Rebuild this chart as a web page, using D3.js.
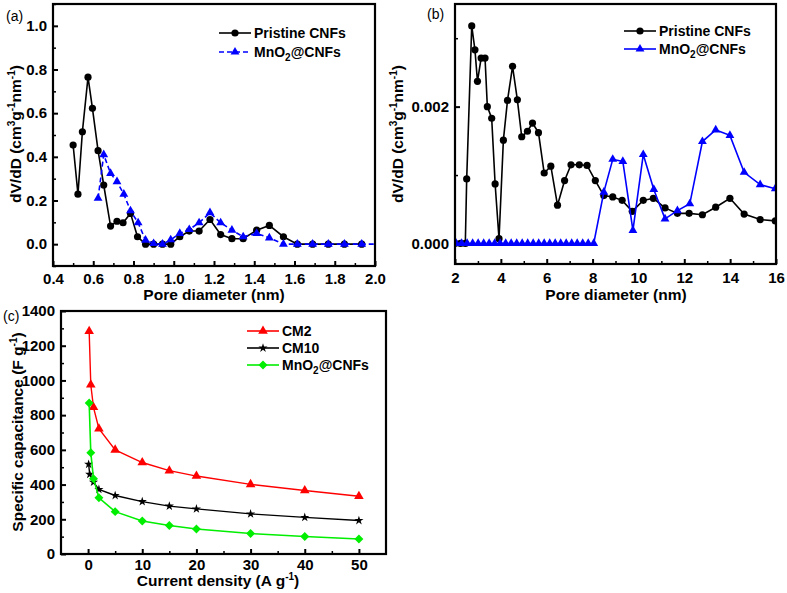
<!DOCTYPE html>
<html><head><meta charset="utf-8">
<script src="https://cdn.jsdelivr.net/npm/d3@7"></script>
<style>
html,body{margin:0;padding:0;background:#fff;}
text{font-family:"Liberation Sans",Arial,sans-serif;}
</style></head>
<body>
<svg id="chart" width="787" height="593"></svg>
<script>
// ---------- Panel (a) data ----------
const aBlackX = [0.50,0.524,0.546,0.574,0.596,0.624,0.652,0.686,0.718,0.748,0.785,0.82,0.86,0.90,0.944,0.985,1.03,1.077,1.126,1.18,1.233,1.289,1.345,1.412,1.475,1.545,1.614,1.69,1.768,1.848,1.934];
const aBlackY = [0.454,0.229,0.515,0.765,0.622,0.428,0.271,0.083,0.105,0.098,0.141,0.034,0,0,0,0,0.034,0.06,0.06,0.113,0.044,0.025,0.025,0.064,0.086,0.034,0,0,0,0,0];
const aBlueX = [0.624,0.652,0.686,0.718,0.752,0.785,0.823,0.86,0.90,0.944,0.985,1.03,1.077,1.126,1.18,1.233,1.289,1.345,1.412,1.475,1.545,1.614,1.69,1.768,1.848,1.934,2.02];
const aBlueY = [0.21,0.41,0.324,0.286,0.229,0.153,0.098,0.018,0.003,0.0,0.02,0.049,0.067,0.098,0.144,0.098,0.064,0.034,0.049,0.029,0,0,0,0,0,0,0];
const aXTicks = ["0.4","0.6","0.8","1.0","1.2","1.4","1.6","1.8","2.0"];
const aYTicks = ["0.0","0.2","0.4","0.6","0.8","1.0"];

// ---------- Panel (b) data ----------
const bBlackX = [2.0,2.24,2.45,2.51,2.73,2.87,2.98,3.14,3.31,3.41,3.60,3.75,3.92,4.11,4.29,4.51,4.72,4.91,5.16,5.38,5.64,5.89,6.18,6.47,6.78,7.06,7.42,7.76,8.12,8.49,8.88,9.29,9.73,10.21,10.65,11.16,11.70,12.21,12.79,13.37,13.99,14.61,15.31,15.97];
const bBlackY = [0,0,0,0.000944,0.00318,0.00283,0.00237,0.00271,0.00271,0.00200,0.00183,0.00087,0.00007,0.00151,0.00209,0.00259,0.00210,0.00156,0.00164,0.00176,0.00162,0.00103,0.00113,0.00056,0.00092,0.00115,0.00115,0.00114,0.00092,0.0007,0.00068,0.00063,0.00047,0.00063,0.00066,0.00052,0.00044,0.00044,0.00042,0.00053,0.00066,0.00043,0.00035,0.00033];
const bBlueX = [2.05,2.29,2.53,2.77,3.01,3.25,3.49,3.73,3.97,4.21,4.45,4.69,4.93,5.17,5.41,5.65,5.89,6.13,6.37,6.61,6.85,7.09,7.33,7.57,7.81,8.05,8.49,8.88,9.32,9.76,10.21,10.67,11.16,11.70,12.24,12.79,13.37,13.99,14.61,15.31,15.97];
const bBlueY = [0,0,0,0,0,0,0,0,0,0,0,0,0,0,0,0,0,0,0,0,0,0,0,0,0,0,0.00075,0.00123,0.00120,0.00019,0.00130,0.00079,0.00036,0.00048,0.00058,0.00149,0.00166,0.00158,0.00104,0.00086,0.0008];
const bXTicks = ["2","4","6","8","10","12","14","16"];
const bYTicks = ["0.000","0.002"];

// ---------- Panel (c) data ----------
const cCM2X = [0.2,0.5,1,2,5,10,15,20,30,40,50];
const cCM2Y = [1283,975,845,722,600,527,480,449,401,366,333];
const cCM10X = [0.1,0.3,1,2,5,10,15,20,30,40,50];
const cCM10Y = [517,459,414,372,337,302,276,260,231,211,193];
const cMnX = [0.2,0.5,1,2,5,10,15,20,30,40,50];
const cMnY = [870,583,434,324,244,190,164,144,118,101,86];
const cXTicks = ["0","10","20","30","40","50"];
const cYTicks = ["0","200","400","600","800","1000","1200","1400"];

const svg = d3.select("#chart");
const defs = svg.append("defs");
const FS = 15;

function panel(cfg){
  const g = svg.append("g");
  const x = d3.scaleLinear().domain(cfg.xd).range([cfg.x0, cfg.x1]);
  const y = d3.scaleLinear().domain(cfg.yd).range([cfg.y1, cfg.y0]);
  g.append("g").attr("transform",`translate(0,${cfg.y1})`)
    .call(d3.axisBottom(x).tickValues(cfg.xMinor).tickSize(-3).tickFormat(""))
    .call(s=>{s.select(".domain").remove(); s.selectAll("line").attr("stroke","#000").attr("stroke-width",1.5);});
  g.append("g").attr("transform",`translate(${cfg.x0},0)`)
    .call(d3.axisLeft(y).tickValues(cfg.yMinor).tickSize(-3).tickFormat(""))
    .call(s=>{s.select(".domain").remove(); s.selectAll("line").attr("stroke","#000").attr("stroke-width",1.5);});
  g.append("g").attr("transform",`translate(0,${cfg.y1})`)
    .call(d3.axisBottom(x).tickValues(cfg.xTicks.map(Number)).tickSize(-5).tickPadding(cfg.xPad)
      .tickFormat((d,i)=>cfg.xTicks[i]))
    .call(s=>{s.select(".domain").remove(); s.selectAll("line").attr("stroke","#000").attr("stroke-width",2);
      s.selectAll("text").attr("font-size",FS).attr("font-weight","bold").attr("fill","#000").attr("font-family","Liberation Sans, Arial, sans-serif");});
  g.append("g").attr("transform",`translate(${cfg.x0},0)`)
    .call(d3.axisLeft(y).tickValues(cfg.yTicks.map(Number)).tickSize(-5).tickPadding(cfg.yPad)
      .tickFormat((d,i)=>cfg.yTicks[i]))
    .call(s=>{s.select(".domain").remove(); s.selectAll("line").attr("stroke","#000").attr("stroke-width",2);
      s.selectAll("text").attr("font-size",FS).attr("font-weight","bold").attr("fill","#000").attr("font-family","Liberation Sans, Arial, sans-serif");});
  const id = "clip"+cfg.name;
  defs.append("clipPath").attr("id",id).append("rect")
    .attr("x",cfg.x0).attr("y",cfg.y0).attr("width",cfg.x1-cfg.x0).attr("height",cfg.y1-cfg.y0);
  const plot = g.append("g").attr("clip-path",`url(#${id})`);
  g.append("rect").attr("x",cfg.x0).attr("y",cfg.y0).attr("width",cfg.x1-cfg.x0).attr("height",cfg.y1-cfg.y0)
    .attr("fill","none").attr("stroke","#000").attr("stroke-width",2.2);
  return {g,x,y,plot};
}

function drawMarker(sel, type, color, size){
  if(type==="circle") return sel.append("circle").attr("r",size).attr("fill",color);
  let sym, rot=0;
  if(type==="triangle") sym=d3.symbol().type(d3.symbolTriangle).size(size);
  if(type==="star") sym=d3.symbol().type(d3.symbolStar).size(size);
  if(type==="diamond"){ sym=d3.symbol().type(d3.symbolSquare).size(size); rot=45; }
  return sel.append("path").attr("d",sym()).attr("fill",color).attr("transform",`rotate(${rot})`);
}

function series(p, xs, ys, color, type, size, dash, lw){
  const pts = xs.map((v,i)=>[v,ys[i]]);
  p.plot.append("path").datum(pts)
    .attr("d",d3.line().x(d=>p.x(d[0])).y(d=>p.y(d[1])))
    .attr("fill","none").attr("stroke",color).attr("stroke-width",lw||1.6)
    .attr("stroke-dasharray",dash||null);
  const m = p.plot.append("g").selectAll("g").data(pts).join("g")
    .attr("transform",d=>`translate(${p.x(d[0])},${p.y(d[1])})`);
  m.each(function(){ drawMarker(d3.select(this), type, color, size); });
}

function legendRow(x, y, color, type, size, dash, label, sub){
  const g = svg.append("g");
  g.append("line").attr("x1",x-16).attr("x2",x+16).attr("y1",y).attr("y2",y)
    .attr("stroke",color).attr("stroke-width",1.6).attr("stroke-dasharray",dash||null);
  const mg = g.append("g").attr("transform",`translate(${x},${y})`);
  drawMarker(mg, type, color, size);
  const t = g.append("text").attr("x",x+19).attr("y",y+5).attr("font-size",14).attr("font-weight","bold");
  if(sub){
    t.append("tspan").text(label[0]);
    t.append("tspan").text(label[1]).attr("font-size",10).attr("dy",4);
    t.append("tspan").text(label[2]).attr("dy",-4);
  } else t.text(label);
}

function rotTitle(cx, cy, parts){
  const t = svg.append("text").attr("transform",`translate(${cx},${cy}) rotate(-90)`)
    .attr("text-anchor","middle").attr("font-size",15.5).attr("font-weight","bold");
  parts.forEach(p=>{
    const s = t.append("tspan").text(p[0]);
    if(p[1]==="sup"){ s.attr("font-size",10).attr("dy",-6); }
    else if(p[1]==="base"){ s.attr("dy",6); }
  });
}
function hTitle(cx, cy, parts){
  const t = svg.append("text").attr("x",cx).attr("y",cy)
    .attr("text-anchor","middle").attr("font-size",15.5).attr("font-weight","bold");
  parts.forEach(p=>{
    const s = t.append("tspan").text(p[0]);
    if(p[1]==="sup"){ s.attr("font-size",10).attr("dy",-6); }
    else if(p[1]==="base"){ s.attr("dy",6); }
  });
}

// ---------- Panel (a) ----------
const pa = panel({name:"a", xd:[0.4,2.0], yd:[-0.1,1.1], x0:53, x1:375, y0:4, y1:266,
  xTicks:aXTicks, yTicks:aYTicks,
  xMinor:[0.5,0.7,0.9,1.1,1.3,1.5,1.7,1.9], yMinor:[-0.1,0.1,0.3,0.5,0.7,0.9,1.1],
  xPad:7, yPad:6});
series(pa, aBlackX, aBlackY, "#000", "circle", 3.6);
series(pa, aBlueX, aBlueY, "#0000ff", "triangle", 34, "5,3");
legendRow(235, 33, "#000", "circle", 3.6, null, "Pristine CNFs");
legendRow(235, 52, "#0000ff", "triangle", 34, "5,3", ["MnO","2","@CNFs"], true);
svg.append("text").attr("x",6).attr("y",21).attr("font-size",14).text("(a)");
rotTitle(21, 134, [["dV/dD (cm"],["3","sup"],["g","base"],["-1","sup"],["nm","base"],["-1","sup"],[")","base"]]);
hTitle(214, 300, [["Pore diameter (nm)"]]);

// ---------- Panel (b) ----------
const pb = panel({name:"b", xd:[2,16], yd:[-0.0003,0.0035], x0:455, x1:776, y0:4, y1:264,
  xTicks:bXTicks, yTicks:bYTicks,
  xMinor:[3,5,7,9,11,13,15], yMinor:[0.001,0.003],
  xPad:8, yPad:6});
series(pb, bBlackX, bBlackY, "#000", "circle", 3.6);
series(pb, bBlueX, bBlueY, "#0000ff", "triangle", 34);
legendRow(640, 31, "#000", "circle", 3.6, null, "Pristine CNFs");
legendRow(640, 49, "#0000ff", "triangle", 34, null, ["MnO","2","@CNFs"], true);
svg.append("text").attr("x",427).attr("y",19).attr("font-size",14).text("(b)");
rotTitle(403, 134, [["dV/dD (cm"],["3","sup"],["g","base"],["-1","sup"],["nm","base"],["-1","sup"],[")","base"]]);
hTitle(616, 300, [["Pore diameter (nm)"]]);

// ---------- Panel (c) ----------
const pc = panel({name:"c", xd:[-5,55], yd:[0,1400], x0:61, x1:386, y0:311, y1:554,
  xTicks:cXTicks, yTicks:cYTicks,
  xMinor:[5,15,25,35,45], yMinor:[100,300,500,700,900,1100,1300],
  xPad:5, yPad:6});
series(pc, cCM2X, cCM2Y, "#ff0000", "triangle", 40, null, 1.4);
series(pc, cCM10X, cCM10Y, "#000", "star", 26, null, 1.4);
series(pc, cMnX, cMnY, "#00ee00", "diamond", 40, null, 1.6);
legendRow(263, 331, "#ff0000", "triangle", 40, null, "CM2");
legendRow(263, 348, "#000", "star", 26, null, "CM10");
legendRow(263, 365, "#00ee00", "diamond", 40, null, ["MnO","2","@CNFs"], true);
svg.append("text").attr("x",3).attr("y",321).attr("font-size",14).text("(c)");
rotTitle(23, 432, [["Specific capacitance (F g"],["-1","sup"],[")","base"]]);
hTitle(218, 586, [["Current density (A g"],["-1","sup"],[")","base"]]);
</script>
</body></html>
